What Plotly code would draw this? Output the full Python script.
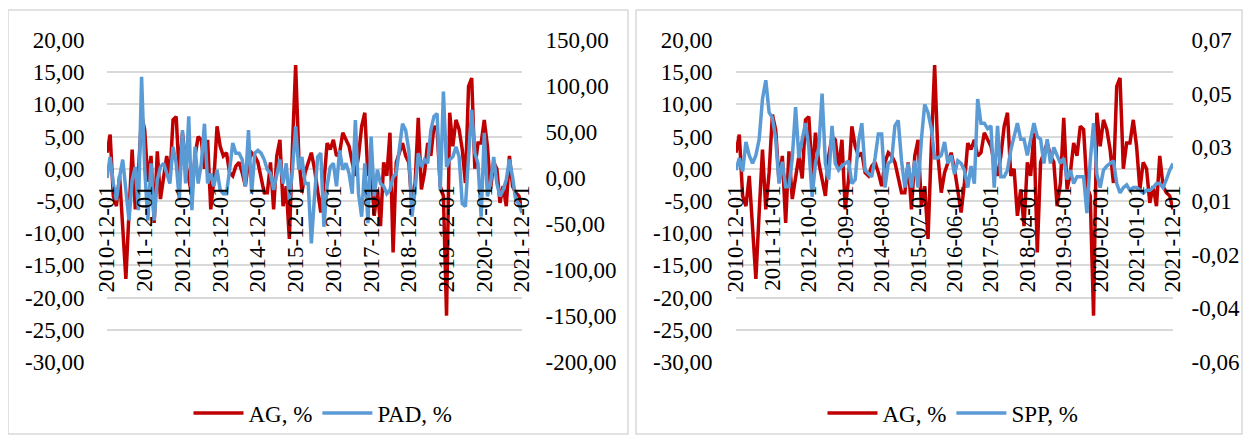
import pandas as pd
import plotly.graph_objects as go

dates = [d.strftime("%Y-%m-%d") for d in pd.date_range("2010-12-01", "2021-12-01", freq="MS")]

ag = [2.5, 5.3, -4.2, -5.8, -1.1, -10.0, -17.1, -6.8, 3.0, -6.3, -0.6, 8.4,
      6.0, -2.0, 2.0, -8.4, 2.7, -4.7, -1.6, 2.0, -1.5, 7.6, 8.1, -1.1,
      5.6, 1.0, -1.6, -4.2, 2.0, 5.0, 4.5, 0.0, 4.5, -6.3, -1.6, 6.6,
      3.5, 2.0, 2.5, -0.6, -1.1, 0.4, 1.0, -0.6, -2.7, 1.0, 2.5, 2.0,
      1.0, -1.6, -3.7, -3.7, 1.0, -6.3, 2.0, 4.5, -5.8, -2.7, -10.9, 3.5,
      16.1, 2.0, -3.7, -0.6, 1.0, 2.5, 0.0, -3.7, -6.8, -2.2, 4.0, 3.0,
      4.5, 2.0, 2.5, 5.6, 4.5, 3.5, 1.0, -1.1, 2.0, 6.6, 8.7, -1.1,
      0.0, -7.3, -3.2, -8.9, 1.0, -1.1, 5.6, -13.0, 1.0, 2.5, 4.0, 2.0,
      1.0, -5.8, -2.2, 7.9, -3.2, -0.6, 4.0, 2.0, 6.6, 6.1, -2.7, -4.2,
      -22.8, 8.7, 3.5, 7.6, 6.1, 3.0, -2.2, 12.8, 14.1, 0.0, 4.0, 4.0,
      7.6, 3.5, -3.2, 1.0, 0.0, -5.3, -2.7, -5.8, 2.0, -2.7, -3.7, -4.2,
      -6.3]

pad = [0, 23, -6, -24, 1, 20, -13, -46, -2, 12, -35, 110,
       9, -46, 16, -46, -2, 12, 16, 5, -6, 34, 16, -24,
       52, -6, 67, -35, 34, -6, 16, 59, -6, 5, -9, 9,
       -13, -17, -17, 9, 38, 27, 27, 20, -9, 52, -17, 27,
       30, 27, 20, 9, 5, -13, 5, 20, -6, 16, -24, 9,
       56, 9, 23, -6, -6, -71, -20, 23, 27, -53, -9, 12,
       16, -9, 30, 9, 16, 5, -17, 63, -17, -42, 16, -49,
       45, -20, 9, -6, -9, -17, -13, 1, 5, 30, 59, 52,
       30, -42, -13, 27, 12, 20, 16, 52, 67, 70, -13, 94,
       12, 20, 23, 34, 23, -28, -31, 23, 74, 27, 16, -42,
       49, -20, -6, 23, -6, -20, -13, -2, 20, 1, -24, -28,
       -38]

spp = [0.0165, 0.021, 0.016, 0.027, 0.022, 0.019, 0.022, 0.028, 0.043, 0.050, 0.038, 0.036,
       0.028, 0.0115, 0.0196, 0.0103, 0.0103, 0.021, 0.040, 0.021, 0.028, 0.034, 0.025, 0.0066,
       0.019, 0.025, 0.045, 0.019, 0.013, 0.033, 0.019, 0.0165, 0.018, 0.019, 0.020, 0.0115,
       0.013, 0.027, 0.034, 0.0165, 0.015, 0.014, 0.021, 0.030, 0.030, 0.010, 0.019, 0.020,
       0.033, 0.035, 0.020, 0.010, 0.019, 0.010, 0.020, 0.010, 0.028, 0.041, 0.038, 0.032,
       0.021, 0.021, 0.022, 0.027, 0.019, 0.022, 0.015, 0.020, 0.019, 0.0165, 0.010, 0.018,
       0.0115, 0.043, 0.034, 0.034, 0.032, 0.033, 0.010, 0.033, 0.014, 0.014, 0.0165, 0.024,
       0.029, 0.034, 0.028, 0.028, 0.022, 0.028, 0.034, 0.029, 0.028, 0.019, 0.028, 0.019,
       0.025, 0.022, 0.019, 0.021, 0.013, 0.0165, 0.0115, 0.014, 0.014, 0.014, 0.0005, 0.020,
       0.034, 0.015, 0.010, 0.0165, 0.018, 0.019, 0.020, 0.0115, 0.008, 0.010, 0.011, 0.009,
       0.010, 0.010, 0.009, 0.008, 0.009, 0.009, 0.010, 0.0115, 0.0115, 0.010, 0.013, 0.0165,
       0.019]

left_ticks = [-30, -25, -20, -15, -10, -5, 0, 5, 10, 15, 20]
left_text = ["-30,00", "-25,00", "-20,00", "-15,00", "-10,00", "-5,00", "0,00",
             "5,00", "10,00", "15,00", "20,00"]
pad_ticks = [-200, -150, -100, -50, 0, 50, 100, 150]
pad_text = ["-200,00", "-150,00", "-100,00", "-50,00", "0,00", "50,00", "100,00", "150,00"]
spp_ticks = [-0.055, -0.035, -0.015, 0.005, 0.025, 0.045, 0.065]
spp_text = ["-0,06", "-0,04", "-0,02", "0,01", "0,03", "0,05", "0,07"]
xl_ticks = dates[::12]
xr_ticks = dates[::11]

# page body has an 8px margin; size the figure to fit the 1251x443 window
OFF = 8
W, H = 1251 - 2 * OFF, 443 - 2 * OFF
RED = "#c00000"
BLUE = "#5b9bd5"
GRID = "#d9d9d9"
FONT = dict(family="Liberation Serif, Times New Roman, serif", size=23, color="#000000")

def px_x(v):
    return (v - OFF) / W

def px_y(v):
    return 1 - (v - OFF) / H

fig = go.Figure()
fig.add_trace(go.Scatter(x=dates, y=ag, name="AG, %", mode="lines",
                         line=dict(color=RED, width=3.5), xaxis="x", yaxis="y", legend="legend"))
fig.add_trace(go.Scatter(x=dates, y=pad, name="PAD, %", mode="lines",
                         line=dict(color=BLUE, width=3.5), xaxis="x", yaxis="y2", legend="legend"))
fig.add_trace(go.Scatter(x=dates, y=ag, name="AG, %", mode="lines",
                         line=dict(color=RED, width=3.5), xaxis="x2", yaxis="y3", legend="legend2"))
fig.add_trace(go.Scatter(x=dates, y=spp, name="SPP, %", mode="lines",
                         line=dict(color=BLUE, width=3.5), xaxis="x2", yaxis="y4", legend="legend2"))

ydom = [px_y(362), px_y(40)]
xaxis_common = dict(type="category", tickmode="array", tickangle=-90, showgrid=False,
                    zeroline=False, showline=False, ticks="outside", ticklen=2,
                    tickcolor="rgba(0,0,0,0)", tickfont=FONT, anchor="free",
                    position=px_y(173), range=[0, 132], automargin=False)
fig.update_layout(
    width=W, height=H, margin=dict(l=0, r=0, t=0, b=0, autoexpand=False),
    paper_bgcolor="white", plot_bgcolor="white", showlegend=True,
    xaxis=dict(domain=[px_x(107), px_x(522)], tickvals=xl_ticks, ticktext=xl_ticks, **xaxis_common),
    xaxis2=dict(domain=[px_x(736), px_x(1173)], tickvals=xr_ticks, ticktext=xr_ticks, **xaxis_common),
    yaxis=dict(domain=ydom, range=[-30, 20], tickvals=left_ticks, ticktext=left_text,
               showgrid=True, gridcolor=GRID, gridwidth=1.5, zeroline=False, anchor="x",
               ticks="outside", ticklen=17, tickcolor="rgba(0,0,0,0)", tickfont=FONT,
               automargin=False),
    yaxis2=dict(domain=ydom, range=[-200, 150], tickvals=pad_ticks, ticktext=pad_text,
                overlaying="y", side="right", anchor="x", showgrid=False, zeroline=False,
                ticks="outside", ticklen=18, tickcolor="rgba(0,0,0,0)", tickfont=FONT,
                automargin=False),
    yaxis3=dict(domain=ydom, range=[-30, 20], tickvals=left_ticks, ticktext=left_text,
                showgrid=True, gridcolor=GRID, gridwidth=1.5, zeroline=False, anchor="x2",
                ticks="outside", ticklen=18, tickcolor="rgba(0,0,0,0)", tickfont=FONT,
                automargin=False),
    yaxis4=dict(domain=ydom, range=[-0.055, 0.065], tickvals=spp_ticks, ticktext=spp_text,
                overlaying="y3", side="right", anchor="x2", showgrid=False, zeroline=False,
                ticks="outside", ticklen=13, tickcolor="rgba(0,0,0,0)", tickfont=FONT,
                automargin=False),
    legend=dict(orientation="h", x=px_x(323), xanchor="center", y=px_y(413), yanchor="middle",
                font=FONT, bgcolor="rgba(0,0,0,0)", itemwidth=50, traceorder="normal"),
    legend2=dict(orientation="h", x=px_x(953), xanchor="center", y=px_y(413), yanchor="middle",
                 font=FONT, bgcolor="rgba(0,0,0,0)", itemwidth=50, traceorder="normal"),
    shapes=[
        dict(type="rect", xref="paper", yref="paper", x0=px_x(8), x1=px_x(628),
             y0=px_y(434), y1=px_y(10), line=dict(color=GRID, width=1.5)),
        dict(type="rect", xref="paper", yref="paper", x0=px_x(636), x1=px_x(1242),
             y0=px_y(434), y1=px_y(10), line=dict(color=GRID, width=1.5)),
    ],
)

fig.write_html("out.html")
